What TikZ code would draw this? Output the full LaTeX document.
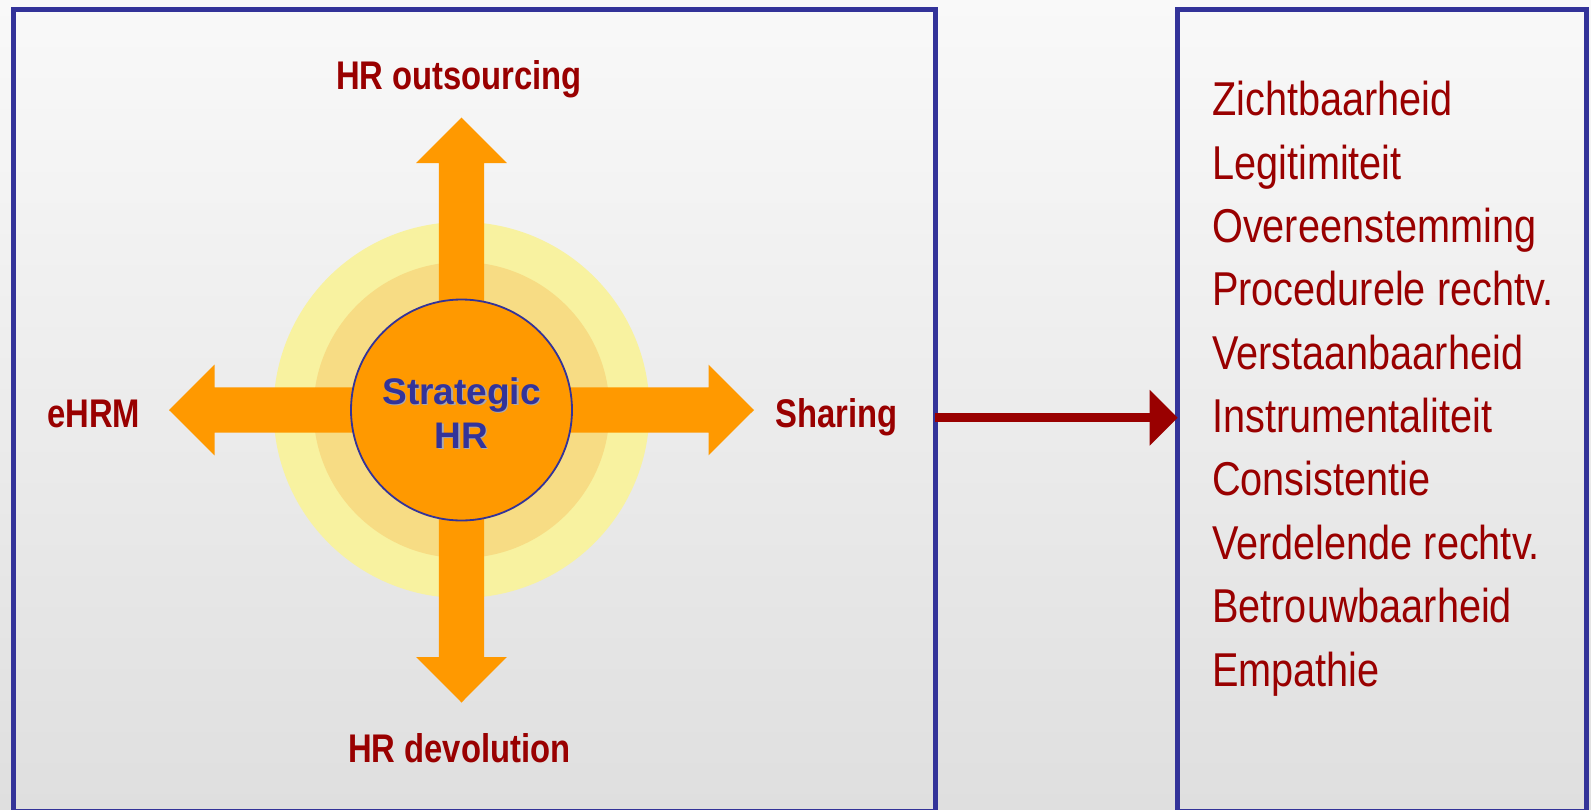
\documentclass[tikz,border=0pt]{standalone}
\usepackage{fontspec}
\setmainfont{Liberation Sans}
\newfontfamily\narrowsans[FakeStretch=0.835]{Liberation Sans}
\newfontfamily\labelsans[FakeStretch=0.82]{Liberation Sans}
\usetikzlibrary{arrows.meta}

\definecolor{frameblue}{HTML}{333399}
\definecolor{darkred}{HTML}{990000}
\definecolor{hrorange}{HTML}{FF9900}
\definecolor{haloout}{HTML}{F8F2A0}
\definecolor{haloin}{HTML}{F7DC84}
\definecolor{bgtop}{HTML}{F9F9F9}
\definecolor{bgbot}{HTML}{DFDFDF}
\definecolor{textshadow}{HTML}{A8A8B0}

\begin{document}
\begin{tikzpicture}[x=1pt,y=-1pt,
  panel/.style={draw=frameblue, line width=5pt, rectangle, outer sep=0pt, inner sep=0pt},
  dirlabel/.style={anchor=base, text=darkred, inner sep=0pt,
    font=\labelsans\bfseries\fontsize{40}{48}\selectfont},
  item/.style={anchor=base west, text=darkred, inner sep=0pt,
    font=\narrowsans\fontsize{47.5}{57}\selectfont},
  coretext/.style={anchor=base, inner sep=0pt,
    font=\bfseries\fontsize{37}{44}\selectfont},
  flowarrow/.style={draw=darkred, line width=8.7pt,
    -{Triangle[length=28pt,width=54pt]}}
]
% page and background
\useasboundingbox (0,0) rectangle (1591,809);
\clip (0,0) rectangle (1591,809);
\shade[top color=bgtop, bottom color=bgbot] (0,0) rectangle (1591,809);

% the two panels
\node[panel, minimum width=921.7pt, minimum height=802pt] (leftpanel) at (474.35,410) {};
\node[panel, minimum width=408.3pt, minimum height=802pt] (rightpanel) at (1381.85,410) {};

% halo around the hub
\coordinate (hub) at (461.5,410);
\fill[haloout] (hub) circle[radius=188pt];
\fill[haloin] (hub) circle[radius=148pt];

% four orange direction arrows
\foreach \a in {0,90,180,270}{
  \begin{scope}[shift={(hub)}, rotate=\a]
    \fill[hrorange] (0,-22.7) -- (247,-22.7) -- (247,-45.3) -- (292.5,0)
      -- (247,45.3) -- (247,22.7) -- (0,22.7) -- cycle;
  \end{scope}
}

% central circle
\node[circle, fill=hrorange, draw=frameblue, line width=1.8pt,
  minimum size=221pt, inner sep=0pt] (core) at (hub) {};
\node[coretext, text=textshadow] at (463,405.8) {Strategic};
\node[coretext, text=textshadow] at (463,449.8) {HR};
\node[coretext, text=frameblue] (core1) at (461.5,404.3) {Strategic};
\node[coretext, text=frameblue] (core2) at (461.5,448.3) {HR};

% direction labels
\node[dirlabel] (outsourcing) at (459,89.3) {HR outsourcing};
\node[dirlabel] (ehrm) at (93.8,427.3) {eHRM};
\node[dirlabel] (sharing) at (836.7,427.3) {Sharing};
\node[dirlabel] (devolution) at (459.2,762.7) {HR devolution};

% list of outcomes
\foreach \t [count=\i from 0] in {Zichtbaarheid, Legitimiteit, Overeenstemming,
  Procedurele rechtv., Verstaanbaarheid, Instrumentaliteit, Consistentie,
  Verdelende rechtv., Betrouwbaarheid, Empathie}{
  \node[item] (item\i) at (1212,115.7+63.37*\i) {\t};
}

% link between the panels
\draw[flowarrow] ([yshift=-7.7pt]leftpanel.east) -- ([yshift=-7.7pt]rightpanel.west);
\end{tikzpicture}
\end{document}
